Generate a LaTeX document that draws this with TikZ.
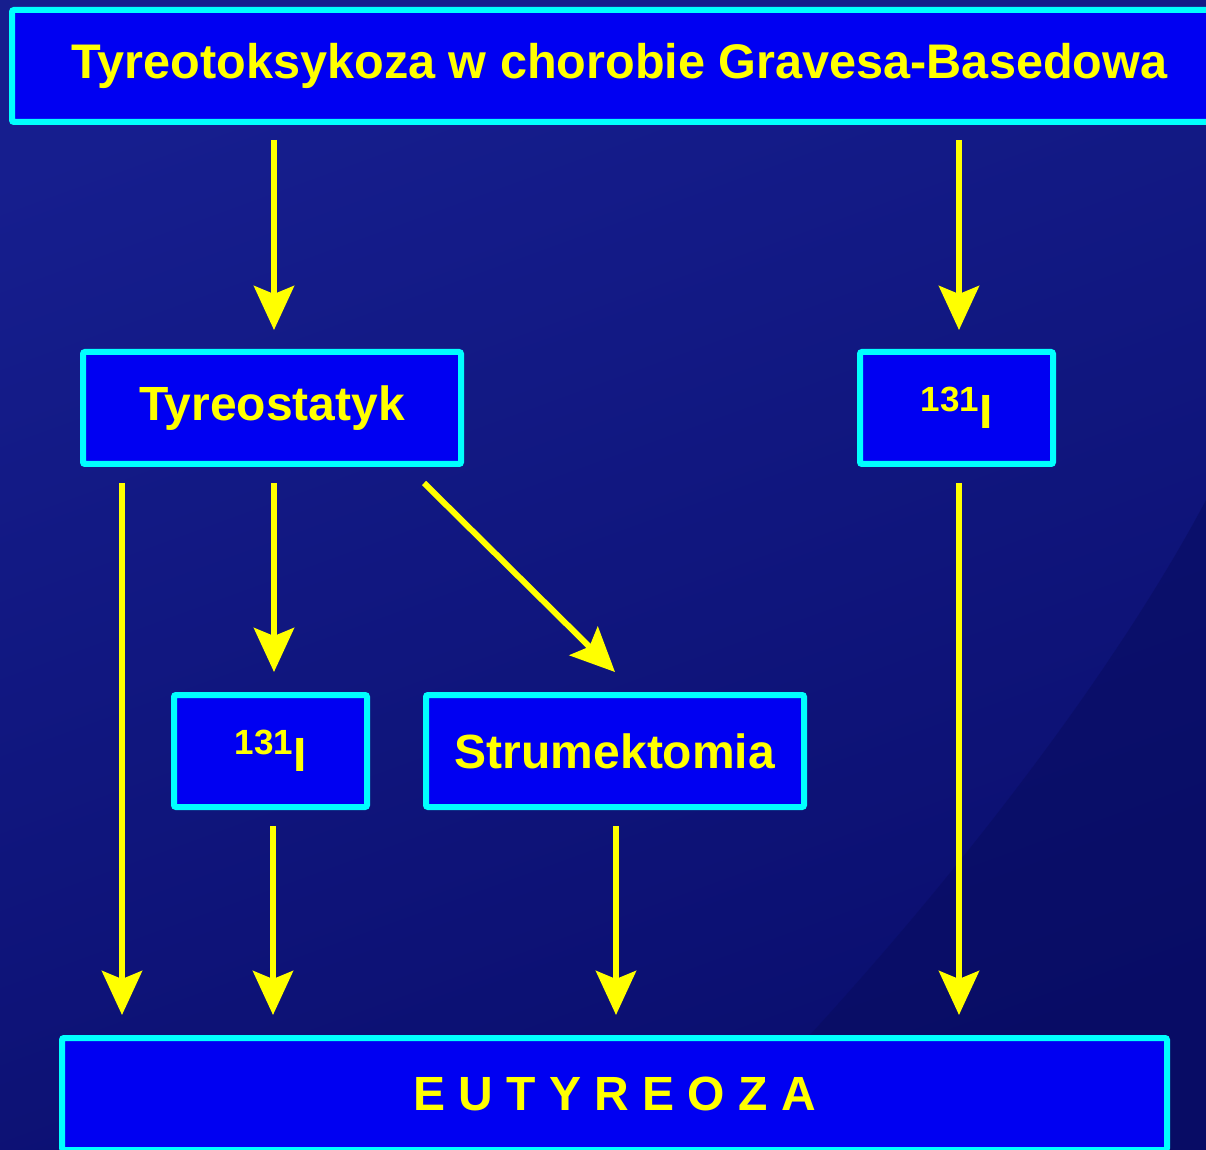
\documentclass[tikz,border=0pt]{standalone}
\usepackage{fontspec}
\setmainfont{Liberation Sans}
\usetikzlibrary{arrows.meta}
\definecolor{bgA}{RGB}{22,30,142}
\definecolor{bgB}{RGB}{10,14,110}
\definecolor{boxfill}{RGB}{0,0,242}
\definecolor{boxline}{RGB}{0,255,255}
\definecolor{txt}{RGB}{255,255,0}
\tikzset{
  box/.style={draw=boxline, fill=boxfill, line width=3pt, rounded corners=1pt,
    text=txt, font=\fontsize{24}{28}\selectfont\bfseries, align=center, inner sep=0pt},
  arr/.style={draw=txt, line width=3pt,
    -{Stealth[length=22pt,width=20pt,inset=4pt]}}
}
\newcommand{\iso}{\raisebox{8.5pt}{\fontsize{17.5}{17.5}\selectfont 131}I}
\begin{document}
\begin{tikzpicture}[x=0.5pt,y=-0.5pt]
\useasboundingbox (0,0) rectangle (1206,1150);
\clip (0,0) rectangle (1206,1150);
\shade[top color=bgA, bottom color=bgB, shading angle=20] (0,0) rectangle (1206,1150);
\fill[bgB!85!black, opacity=0.5] (1206,500) .. controls (1100,700) and (900,950) .. (700,1150) -- (1206,1150) -- cycle;
\node[box, minimum width=601.5pt, minimum height=56pt, font=\fontsize{24.3}{28}\selectfont\bfseries] (top) at (613.5,66) {\hspace*{3pt}Tyreotoksykoza w chorobie Gravesa-Basedowa\hspace*{-3pt}};
\node[box, minimum width=189pt, minimum height=56pt] (tyr) at (272,408) {Tyreostatyk};
\node[box, minimum width=96.5pt, minimum height=56pt] (iR) at (956.5,408) {\iso};
\node[box, minimum width=96.5pt, minimum height=56pt] (iM) at (270.5,751) {\iso};
\node[box, minimum width=189pt, minimum height=56pt] (str) at (615,751) {Strumektomia};
\node[box, minimum width=552.5pt, minimum height=56pt] (eut) at (614.5,1094) {E U T Y R E O Z A};
\coordinate (cL) at ([xshift=21pt]tyr.south west);
\coordinate (cM) at ([xshift=1pt]tyr.south);
\coordinate (cR) at ([xshift=1.25pt]iR.south);
\coordinate (cT) at ([xshift=1.25pt]iM.south);
\draw[arr, shorten <=7.5pt, shorten >=9.5pt] (top.south -| cM) -- (cM |- tyr.north);
\draw[arr, shorten <=7.5pt, shorten >=9.5pt] (top.south -| cR) -- (cR |- iR.north);
\draw[arr, shorten <=8pt, shorten >=10pt] (cL) -- (cL |- eut.north);
\draw[arr, shorten <=8pt, shorten >=10pt] (cM) -- (cM |- iM.north);
\draw[arr] ([xshift=-20pt,yshift=-8pt]tyr.south east) -- ([yshift=10pt]str.north);
\draw[arr, shorten <=8pt, shorten >=10pt] (cR) -- (cR |- eut.north);
\draw[arr, shorten <=8pt, shorten >=10pt] (cT) -- (cT |- eut.north);
\draw[arr, shorten <=8pt, shorten >=10pt] ([xshift=0.5pt]str.south) -- ([xshift=0.5pt]str.south |- eut.north);
\end{tikzpicture}
\end{document}
